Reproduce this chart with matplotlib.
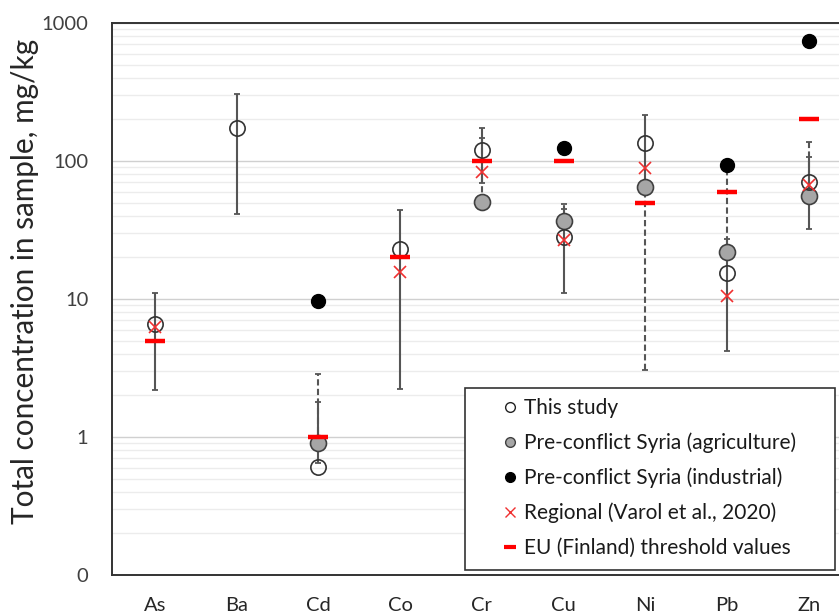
import numpy as np
import matplotlib
matplotlib.use("Agg")
import matplotlib.pyplot as plt
from matplotlib.lines import Line2D
from matplotlib.patches import Rectangle
from matplotlib.ticker import FixedLocator, FixedFormatter, LogLocator, NullFormatter

nan = np.nan
elements = ['As', 'Ba', 'Cd', 'Co', 'Cr', 'Cu', 'Ni', 'Pb', 'Zn']

# This study (open circles) with solid range bars
this_study = [6.6, 173, 0.61, 23.1, 120, 28, 136, 15.5, 70]
this_lo = [2.2, 41, 0.65, 2.23, 69, 11.1, 65, 4.2, 32.3]
this_hi = [11.0, 306, 1.78, 44.4, 174, 45, 217, 27, 107]

# Pre-conflict Syria (agriculture) with dashed range bars
agri = [nan, nan, 0.91, nan, 50.7, 36.9, 65.2, 22, 56]
agri_lo = [nan, nan, 0.91, nan, 50.7, 36.9, 3.06, 22, 56]
agri_hi = [nan, nan, 2.88, nan, 148, 48.8, 65.2, 90, 137]

# Pre-conflict Syria (industrial)
industrial = [nan, nan, 9.6, nan, nan, 125, nan, 93.5, 745]
# Regional (Varol et al., 2020)
regional = [6.3, nan, nan, 15.8, 82.8, 26.8, 88.5, 10.6, 67]
# EU (Finland) threshold values
eu = [5, nan, 1, 20, 100, 100, 50, 60, 200]

y_ticks = [0.1, 1, 10, 100, 1000]
y_tick_labels = ['0', '1', '10', '100', '1000']

FONT = ['Lato', 'DejaVu Sans']
plt.rcParams['font.family'] = FONT

W, H = 839, 614
fig = plt.figure(figsize=(W / 100, H / 100), dpi=100)
left, right, top, bottom = 112, 839, 23, 575
ax = fig.add_axes([left / W, (H - bottom) / H, (right - left) / W, (bottom - top) / H])

x = np.arange(len(elements))
errc = '#555555'

def range_bar(lo, hi):
    lo = np.array(lo, float); hi = np.array(hi, float)
    mid = (lo + hi) / 2
    return mid, np.vstack([mid - lo, hi - mid])

# dashed bars (agriculture ranges)
c, e = range_bar(agri_lo, agri_hi)
eb = ax.errorbar(x, c, yerr=e, fmt='none', ecolor=errc, elinewidth=1.5,
                 capsize=2.5, capthick=1.3, zorder=2)
eb[2][0].set_linestyle((0, (3, 1.6)))

# solid bars (this study ranges)
c, e = range_bar(this_lo, this_hi)
ax.errorbar(x, c, yerr=e, fmt='none', ecolor=errc, elinewidth=1.5,
            capsize=2.5, capthick=1.3, zorder=3)

ax.plot(x, agri, 'o', ms=11.5, mfc='#a6a6a6', mec='#404040', mew=1.2, ls='none', zorder=4)
ax.plot(x, industrial, 'o', ms=10, mfc='black', mec='black', ls='none', zorder=4)
ax.plot(x, this_study, 'o', ms=11, mfc='none', mec='#333333', mew=1.2, ls='none', zorder=5)
ax.plot(x, regional, 'x', ms=9, mec='#f03030', mew=1.2, ls='none', zorder=6)
ax.plot(x, eu, '_', ms=14.5, mec='#ff0000', mew=3.2, ls='none', zorder=7)

ax.set_yscale('log')
ax.set_ylim(0.1, 1000)
ax.set_xlim(-0.526, 8.37)
ax.yaxis.set_major_locator(FixedLocator(y_ticks))
ax.yaxis.set_major_formatter(FixedFormatter(y_tick_labels))
ax.yaxis.set_minor_locator(LogLocator(base=10, subs=np.arange(2, 10)))
ax.yaxis.set_minor_formatter(NullFormatter())
ax.set_xticks(x)
ax.set_xticklabels(elements)
ax.tick_params(axis='both', which='both', length=0)
ax.tick_params(axis='y', labelsize=14.5, labelcolor='#404040', pad=17)
ax.tick_params(axis='x', labelsize=14.5, labelcolor='#262626', pad=16)

ax.grid(True, which='major', axis='y', color='#d0d0d0', lw=1.0, zorder=0)
ax.grid(True, which='minor', axis='y', color='#ececec', lw=1.0, zorder=0)
ax.set_axisbelow(True)

for s in ['left', 'top', 'bottom']:
    ax.spines[s].set_color('#333333')
    ax.spines[s].set_linewidth(1.4)
ax.spines['right'].set_visible(False)

ylab = fig.text(25 / W, 1 - 281 / H, 'Total concentration in sample, mg/kg', rotation=90,
                ha='center', va='center', fontsize=20, color='#262626')
# fit the label length to the reference span (~485 px)
renderer = fig.canvas.get_renderer()
span = ylab.get_window_extent(renderer).height
ylab.set_fontsize(20 * 485 / span)

# legend frame
frame = Rectangle((465 / W, 1 - 570 / H), (835 - 465) / W, (570 - 388) / H,
                  transform=fig.transFigure, facecolor='white', edgecolor='#333333',
                  lw=1.2, zorder=9)
fig.patches.append(frame)

handles = [
    Line2D([], [], marker='o', ls='none', ms=7, mfc='none', mec='#222222', mew=1.0),
    Line2D([], [], marker='o', ls='none', ms=7, mfc='#a6a6a6', mec='#404040', mew=1.0),
    Line2D([], [], marker='o', ls='none', ms=7, mfc='black', mec='black'),
    Line2D([], [], marker='x', ls='none', ms=7, mec='#f03030', mew=1.0),
    Line2D([], [], marker='_', ls='none', ms=9, mec='#ff0000', mew=3),
]
labels = ['This study', 'Pre-conflict Syria (agriculture)', 'Pre-conflict Syria (industrial)',
          'Regional (Varol et al., 2020)', 'EU (Finland) threshold values']
leg = fig.legend(handles, labels, loc='center left', bbox_to_anchor=(503 / W, 1 - 478 / H),
                 bbox_transform=fig.transFigure, borderaxespad=0, fontsize=15,
                 frameon=False, handlelength=0.7, handletextpad=0.3,
                 labelspacing=0.70, borderpad=0)
leg.set_zorder(10)
for t in leg.get_texts():
    t.set_color('#1a1a1a')

fig.savefig('out.png', dpi=100)
